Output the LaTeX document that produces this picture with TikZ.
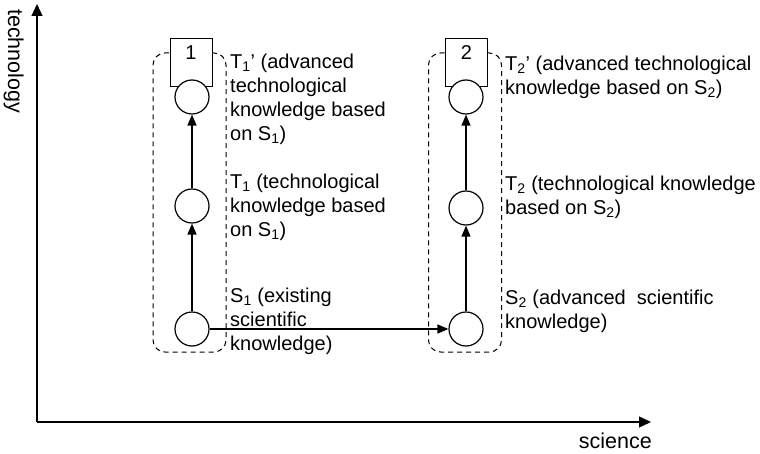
\documentclass[tikz,border=0pt]{standalone}
\usepackage{fontspec}
\setmainfont{Liberation Sans}
\usetikzlibrary{arrows.meta}
\begin{document}
\begin{tikzpicture}[x=1pt,y=-1pt,
  lbl/.style={anchor=north west, inner sep=0pt, align=left, font=\fontsize{20}{24}\selectfont},
  axlbl/.style={inner sep=0pt, font=\fontsize{21.5}{24}\selectfont},
  circ/.style={circle, draw, fill=white, minimum size=34pt, inner sep=0pt, line width=1.2pt},
  numbox/.style={draw, fill=white, minimum width=42pt, minimum height=48pt, inner sep=0pt, line width=1pt},
  num/.style={inner sep=0pt, font=\fontsize{20}{24}\selectfont},
  group/.style={draw, dash pattern=on 5pt off 4pt, rounded corners=12pt, minimum width=73pt, minimum height=299pt, inner sep=0pt, line width=1pt},
  arr/.style={line width=1.4pt, -{Triangle[length=11pt,width=9pt]}},
  axis/.style={line width=1.3pt, -{Triangle[length=12pt,width=11pt]}}
]
\useasboundingbox (0,0) rectangle (760,454);
% groups
\node[group] (gl) at (189.5,202.5) {};
\node[group] (gr) at (465,202.5) {};
% number boxes
\node[numbox] (b1) at (191,63) {};
\node[numbox] (b2) at (466.5,63) {};
\node[num] (n1) at (191,53) {1};
\node[num] (n2) at (466.5,53) {2};
% circles
\node[circ] (l1) at (192,97) {};
\node[circ] (l2) at (192,206) {};
\node[circ] (l3) at (192,329) {};
\node[circ] (r1) at (466,97) {};
\node[circ] (r2) at (466,208) {};
\node[circ] (r3) at (466,329) {};
% arrows
\draw[arr] (l3) -- (l2);
\draw[arr] (l2) -- (l1);
\draw[arr] (r3) -- (r2);
\draw[arr] (r2) -- (r1);
\draw[arr] (l3) -- (r3);
% labels
\node[lbl] (tl1) at (230,54) {T\textsubscript{1}’ (advanced\\technological\\knowledge based\\on S\textsubscript{1})};
\node[lbl] (tl2) at (230,174) {T\textsubscript{1} (technological\\knowledge based\\on S\textsubscript{1})};
\node[lbl] (tl3) at (230,288) {S\textsubscript{1} (existing\\scientific\\knowledge)};
\node[lbl] (tr1) at (505,56) {T\textsubscript{2}’ (advanced technological\\knowledge based on S\textsubscript{2})};
\node[lbl] (tr2) at (505,176) {T\textsubscript{2} (technological knowledge\\based on S\textsubscript{2})};
\node[lbl] (tr3) at (505,290) {S\textsubscript{2} (advanced\ \ scientific\\knowledge)};
% axes
\coordinate (o) at (37,422);
\coordinate (ytip) at (37,4);
\coordinate (xtip) at (651,422);
\draw[axis] (o) -- (ytip);
\draw[axis] (o) -- (xtip);
\node[axlbl, anchor=base east] (sci) at (652,448) {science};
\node[axlbl, rotate=-90, anchor=north west] (tech) at (24,9) {technology};
\end{tikzpicture}
\end{document}
